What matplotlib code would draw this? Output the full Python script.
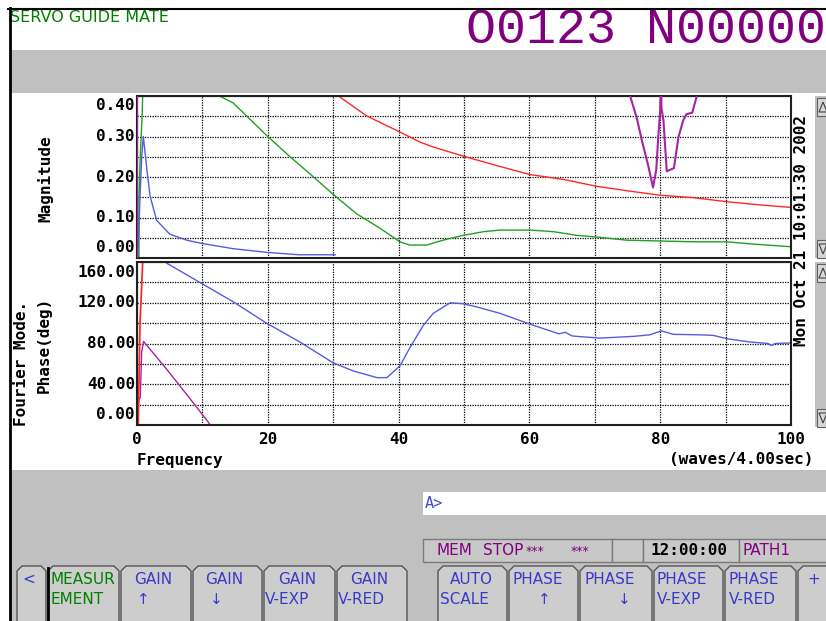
import matplotlib
matplotlib.use('Agg')
import matplotlib.pyplot as plt
from matplotlib.patches import Rectangle, Polygon
import numpy as np

# ---------------- data ----------------
freq_mag_blue = [0.1, 0.2, 0.46, 0.72, 0.97, 1.5, 2.0, 3.0, 5.0, 7.6, 9.9, 14.7, 19.8, 24.7, 30.3]
mag_blue = [0.0, 0.036, 0.15, 0.25, 0.30, 0.22, 0.153, 0.093, 0.059, 0.044, 0.036, 0.023, 0.014, 0.008, 0.008]

freq_mag_green = [0.3, 0.3, 0.5, 0.8, 1.0, 3.0, 12.0, 14.7, 19.8, 23.4, 27.0, 30.0, 33.6, 37.2,
                  40.2, 41.7, 44.3, 46.8, 49.9, 53.0, 55.5, 60.1, 63.7, 67.2, 70.8, 74.9,
                  80.0, 85.1, 90.2, 93.7, 99.8]
mag_green = [0.0, 0.15, 0.25, 0.36, 0.48, 0.90, 0.405, 0.383, 0.303, 0.25, 0.20, 0.157, 0.109, 0.073,
             0.040, 0.032, 0.032, 0.044, 0.056, 0.065, 0.069, 0.069, 0.065, 0.056, 0.051, 0.044,
             0.042, 0.040, 0.040, 0.035, 0.028]

freq_mag_red = [1.0, 15.0, 25.0, 30.8, 35.1, 40.2, 43.3, 45.3, 50.2, 55.5, 60.1, 65.2, 70.3,
                75.4, 80.0, 85.1, 90.2, 95.3, 99.9]
mag_red = [3.0, 0.8, 0.5, 0.40, 0.351, 0.311, 0.286, 0.274, 0.250, 0.226, 0.206, 0.194, 0.177,
           0.165, 0.155, 0.149, 0.139, 0.131, 0.125]

freq_mag_purple = [0.0, 0.0, 40.0, 75.4, 76.4, 77.2, 78.2, 78.9, 79.4, 79.7, 80.0, 80.1, 80.2,
                   80.5, 81.0, 82.1, 82.8, 83.5, 84.0, 84.9, 85.6, 90.0]
mag_purple = [0.0, 3.0, 2.0, 0.40, 0.347, 0.29, 0.226, 0.174, 0.218, 0.299, 0.364, 0.45, 0.37,
              0.339, 0.214, 0.222, 0.299, 0.339, 0.355, 0.359, 0.40, 0.9]

freq_ph_blue = [1.0, 4.5, 9.6, 14.7, 19.8, 24.9, 30.0, 33.1, 36.7, 38.2, 40.2, 41.7, 43.8, 45.3,
                47.9, 49.9, 51.9, 55.5, 60.1, 64.5, 65.5, 66.5, 67.2, 70.8, 75.9, 78.4, 80.2,
                82.0, 86.1, 88.1, 90.2, 93.7, 96.5, 97.0, 97.6, 99.9]
ph_blue = [185, 159, 140, 121, 100, 81.5, 61, 53, 46.5, 46.5, 58, 75.6, 98, 109.6,
           120, 119, 116, 109.6, 99, 89.5, 91, 87.5, 87, 85.3, 87, 88.5, 92.4,
           89, 88.5, 88, 84.7, 81.5, 80, 78, 80, 80.5]

freq_ph_red = [0.2, 0.2, 0.35, 0.46, 0.72, 0.9, 1.2]
ph_red = [0, 10, 59, 100, 137, 165, 220]

freq_ph_purple = [0.0, 0.3, 0.5, 0.72, 1.0, 4.5, 7.6, 10.9, 13.0]
ph_purple = [0, 25, 27, 72, 82, 55, 30, 2.8, -18]

mag_ticks = [0.40, 0.30, 0.20, 0.10, 0.00]
ph_ticks = [160, 120, 80, 40, 0]
freq_ticks = [0, 20, 40, 60, 80, 100]

# ---------------- colours / fonts ----------------
RED = '#ff2828'
GREEN = '#22a022'
BLUE = '#5a5ade'
PURPLE = '#a424a4'
GRAY = '#c0c0c0'
MONO = 'DejaVu Sans Mono'
SANS = 'DejaVu Sans'
KEYBLUE = '#3a3ac8'
STATPURPLE = '#800080'

W, H = 826, 621
fig = plt.figure(figsize=(W / 100, H / 100), dpi=100)
fig.patch.set_facecolor('white')

bg = fig.add_axes([0, 0, 1, 1])
bg.set_xlim(0, W)
bg.set_ylim(H, 0)
bg.axis('off')


def rect(x0, y0, x1, y1, fc, ec='none', lw=0.0, z=1):
    bg.add_patch(Rectangle((x0, y0), x1 - x0, y1 - y0, facecolor=fc,
                           edgecolor=ec, linewidth=lw, zorder=z))


# screen frame
rect(10, 50, W, 93, GRAY)
rect(10, 470, W, H, GRAY)
bg.plot([8, W], [8.5, 8.5], color='black', lw=1.5, zorder=5)
bg.plot([9.5, 9.5], [8, H], color='black', lw=2, zorder=5)

# header texts
bg.text(10, 18, 'SERVO GUIDE MATE', color='#008000', fontsize=11.5, family=SANS,
        ha='left', va='center')
bg.text(466, 30, 'O0123 N00000', color=STATPURPLE, fontsize=36, family='Liberation Mono',
        ha='left', va='center', clip_on=True)

# scroll bars at the right
for (y0, y1) in [(96, 258), (262, 427)]:
    rect(815, y0, W, y1, GRAY, z=2)
    rect(817, y0 + 2, W, y0 + 20, '#d8d8d8', ec='#606060', lw=0.8, z=3)
    rect(817, y1 - 18, W, y1, '#d8d8d8', ec='#606060', lw=0.8, z=3)
    bg.add_patch(Polygon([(819, y0 + 16), (823, y0 + 6), (827, y0 + 16)], closed=True,
                         fill=False, edgecolor='#404040', lw=0.8, zorder=4))
    bg.add_patch(Polygon([(819, y1 - 14), (823, y1 - 4), (827, y1 - 14)], closed=True,
                         fill=False, edgecolor='#404040', lw=0.8, zorder=4))

# ---------------- plot axes ----------------
axm = fig.add_axes([137 / W, 1 - 258 / H, 654 / W, 162 / H])
axp = fig.add_axes([137 / W, 1 - 425 / H, 654 / W, 163 / H])

LW = 1.0
axm.plot(freq_mag_red, mag_red, color=RED, lw=LW)
axm.plot(freq_mag_green, mag_green, color=GREEN, lw=LW)
axm.plot(freq_mag_blue, mag_blue, color=BLUE, lw=LW)
axm.plot(freq_mag_purple, mag_purple, color=PURPLE, lw=LW + 0.5, zorder=3)

axp.plot(freq_ph_blue, ph_blue, color=BLUE, lw=LW)
axp.plot(freq_ph_purple, ph_purple, color=PURPLE, lw=LW)
axp.plot(freq_ph_red, ph_red, color=RED, lw=LW + 0.3)

axm.set_ylim(0, 0.40)
axp.set_ylim(0, 160)
axm.set_yticks(np.arange(0, 0.401, 0.05))
axp.set_yticks(np.arange(0, 161, 20))

for ax in (axm, axp):
    ax.set_xlim(0, 100)
    ax.set_xticks(np.arange(0, 101, 10))
    ax.grid(True, color='black', linestyle=(0, (1, 1)), linewidth=0.9)
    ax.tick_params(length=0, labelleft=False)
    for s in ax.spines.values():
        s.set_linewidth(1.5)
        s.set_color('#202020')
    ax.set_facecolor('white')

axm.tick_params(labelbottom=False)
axp.set_xticklabels([str(v) if v in freq_ticks else '' for v in range(0, 101, 10)],
                    family=MONO, fontweight='bold', fontsize=11.5)
axp.tick_params(axis='x', pad=5)

# y tick labels (first and last shifted inside the frame as on the screen)
for i, v in enumerate(mag_ticks):
    dy = -7.2 if i == 0 else (7.9 if i == len(mag_ticks) - 1 else 0)
    axm.annotate('%.2f' % v, xy=(0, v), xycoords=axm.get_yaxis_transform(),
                 xytext=(-1.5, dy), textcoords='offset points', ha='right', va='center',
                 family=MONO, fontweight='bold', fontsize=11.5)
for i, v in enumerate(ph_ticks):
    dy = -7.2 if i == 0 else (7.9 if i == len(ph_ticks) - 1 else 0)
    axp.annotate('%.2f' % v, xy=(0, v), xycoords=axp.get_yaxis_transform(),
                 xytext=(-1.5, dy), textcoords='offset points', ha='right', va='center',
                 family=MONO, fontweight='bold', fontsize=11.5)

# axis titles
tkw = dict(family=MONO, fontweight='bold', fontsize=11.5)
bg.text(45, 179, 'Magnitude', rotation=90, ha='center', va='center', **tkw)
bg.text(22, 363, 'Fourier Mode.', rotation=90, ha='center', va='center', **tkw)
bg.text(44, 345, 'Phase(deg)', rotation=90, ha='center', va='center', **tkw)
bg.text(137, 460, 'Frequency', ha='left', va='center', **tkw)
bg.text(813, 460, '(waves/4.00sec)', ha='right', va='center', **tkw)
bg.text(802, 230, 'Mon Oct 21 10:01:30 2002', rotation=90, ha='center', va='center', **tkw)

# ---------------- bottom panel ----------------
rect(423, 492, W, 515, 'white', z=2)
bg.text(425, 503.5, 'A>', color='#4848c8', family=MONO, fontsize=11, ha='left',
        va='center', zorder=3)

for (x0, x1) in [(423, 612), (612, 643), (643, 739), (739, W + 2)]:
    rect(x0, 539, x1, 562, '#c8c8c8', ec='#7a7a7a', lw=1, z=2)
skw = dict(family=SANS, fontsize=11, va='center', ha='left', zorder=3)
bg.text(436, 550.5, 'MEM', color=STATPURPLE, **skw)
bg.text(483, 550.5, 'STOP', color=STATPURPLE, **skw)
bg.text(526, 551, '***', color=STATPURPLE, family=SANS, fontsize=9, va='center', ha='left', zorder=3)
bg.text(571, 551, '***', color=STATPURPLE, family=SANS, fontsize=9, va='center', ha='left', zorder=3)
bg.text(651, 550.5, '12:00:00', color='black', family=MONO, fontsize=11.5, fontweight='bold',
        va='center', ha='left', zorder=3)
bg.text(743, 550.5, 'PATH1', color=STATPURPLE, **skw)

# soft keys: (line1, line2, left, right, x of line1, x of line2, colour)
keys = [
    ('<', '', 16, 47, 22, 22, KEYBLUE),
    ('MEASUR', 'EMENT', 47, 120, 50, 50, '#008000'),
    ('GAIN', '↑', 120, 192, 134, 137, KEYBLUE),
    ('GAIN', '↓', 192, 263, 205, 210, KEYBLUE),
    ('GAIN', 'V-EXP', 263, 336, 278, 265, KEYBLUE),
    ('GAIN', 'V-RED', 336, 408, 350, 338, KEYBLUE),
    ('AUTO', 'SCALE', 437, 508, 450, 440, KEYBLUE),
    ('PHASE', '↑', 508, 579, 513, 538, KEYBLUE),
    ('PHASE', '↓', 579, 653, 585, 618, KEYBLUE),
    ('PHASE', 'V-EXP', 653, 724, 657, 657, KEYBLUE),
    ('PHASE', 'V-RED', 724, 797, 729, 729, KEYBLUE),
    ('+', '', 797, 845, 807, 807, KEYBLUE),
]
ytop = 566
for (l1, l2, x0, x1, tx1, tx2, col) in keys:
    poly = [(x0 + 1, H + 2), (x0 + 1, ytop + 5), (x0 + 6, ytop), (x1 - 6, ytop),
            (x1 - 1, ytop + 5), (x1 - 1, H + 2)]
    bg.add_patch(Polygon(poly, closed=True, facecolor='#cdcdcd', edgecolor='#555555',
                         lw=1, zorder=2))
    bg.text(tx1, 579, l1, color=col, family=SANS, fontsize=11, ha='left', va='center', zorder=3)
    if l2:
        bg.text(tx2, 600, l2, color=col, family=SANS, fontsize=11, ha='left', va='center',
                zorder=3)
bg.plot([47.5, 47.5], [568, H], color='black', lw=2, zorder=4)

fig.savefig('out.png', dpi=100, facecolor=fig.get_facecolor())
